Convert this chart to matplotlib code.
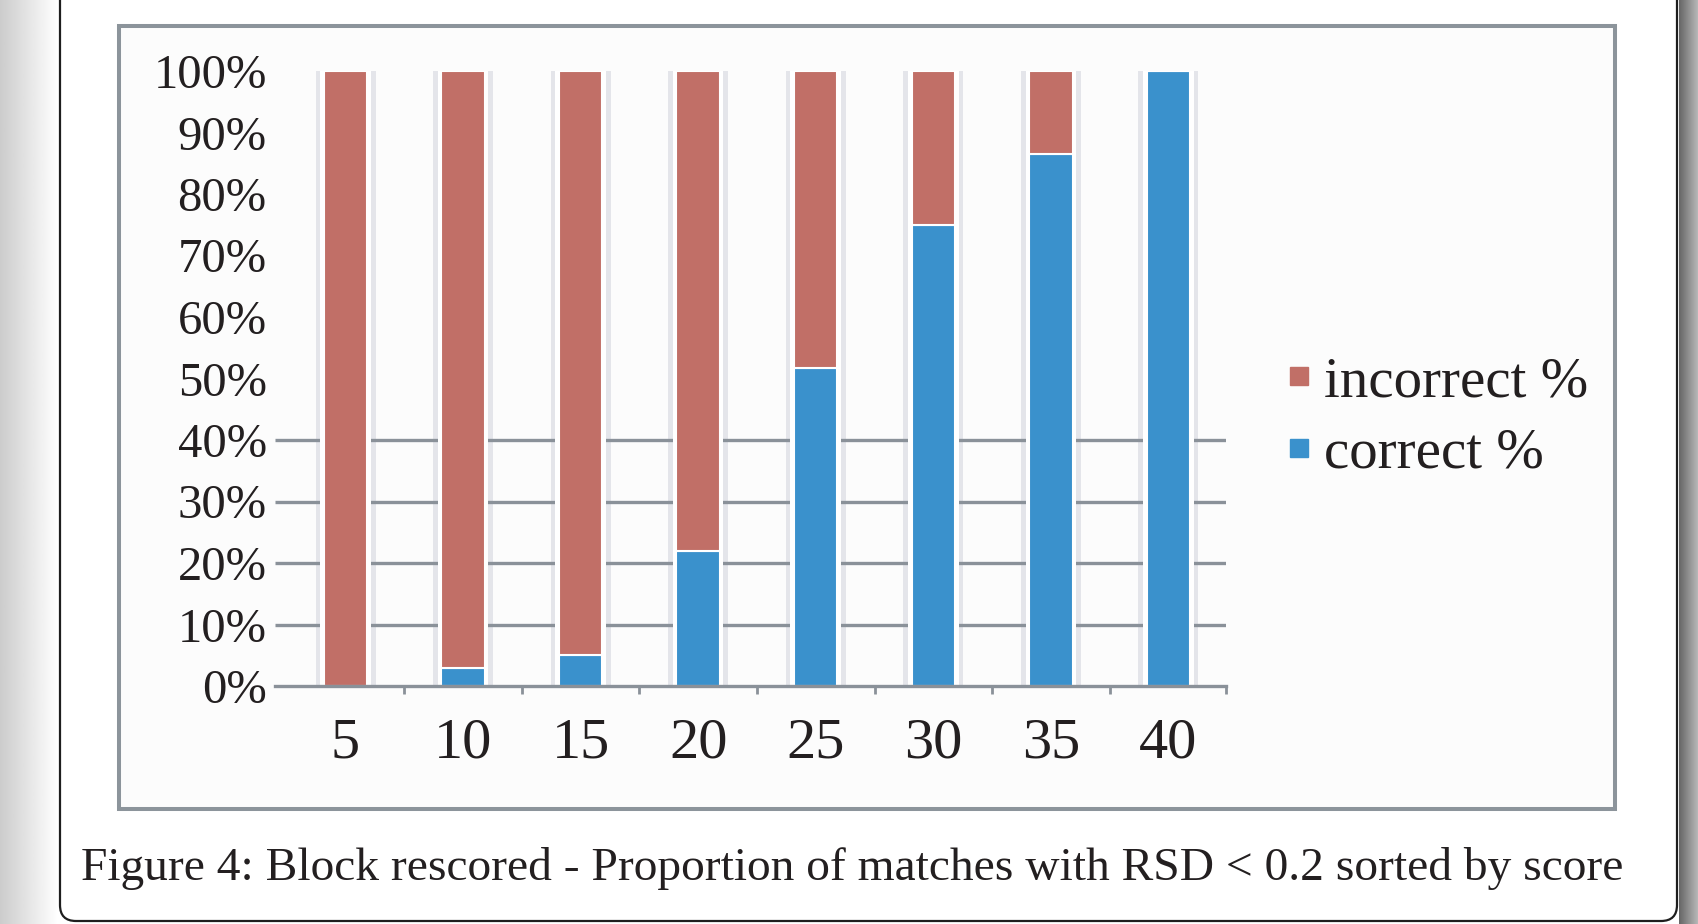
import numpy as np
import matplotlib
matplotlib.use("Agg")
import matplotlib.pyplot as plt
from matplotlib.patches import Rectangle, FancyBboxPatch
from matplotlib.lines import Line2D

# values
scores = ["5", "10", "15", "20", "25", "30", "35", "40"]
correct = [0, 3.0, 5.0, 21.9, 51.7, 75.0, 86.5, 100]
incorrect = [100 - c for c in correct]
y_ticks = [0, 10, 20, 30, 40, 50, 60, 70, 80, 90, 100]
grid_levels = [10, 20, 30, 40]
caption = "Figure 4: Block rescored - Proportion of matches with RSD < 0.2 sorted by score"

RED = "#c16f67"
BLUE = "#3a91cc"
GREY = "#8a9199"
INK = "#231f20"

plt.rcParams["font.family"] = ["Liberation Serif", "DejaVu Serif"]

W, H = 1698, 924
fig = plt.figure(figsize=(W / 100, H / 100), dpi=100, facecolor="white")

# page edges (screenshot look)
def strip(x0, x1, v0, v1):
    sax = fig.add_axes([x0 / W, 0, (x1 - x0) / W, 1], zorder=-5)
    sax.imshow(np.linspace(v0, v1, 64)[None, :], cmap="gray", vmin=0, vmax=1,
               aspect="auto", interpolation="bilinear")
    sax.axis("off")

strip(0, 58, 0.80, 1.0)
strip(1679, W, 0.40, 0.72)
page = FancyBboxPatch((0.60, 0.03), 16.17, 10, boxstyle="round,pad=0,rounding_size=0.16",
                      transform=fig.dpi_scale_trans, facecolor="white",
                      edgecolor="#1e1e1e", lw=1.6, zorder=-4)
fig.patches.append(page)

# chart frame
frame = Rectangle((119 / W, 1 - 809 / H), (1615 - 119) / W, (809 - 26) / H,
                  transform=fig.transFigure, facecolor="#fcfcfc",
                  edgecolor="#8c949b", lw=2.9, zorder=-3)
fig.patches.append(frame)

ax = fig.add_axes([275 / W, 1 - 686 / H, 951 / W, 615 / H])
ax.set_facecolor("none")
x = np.arange(len(scores))

ax.bar(x, 100, width=0.51, color="#e4e5ea", zorder=0.5)
ax.hlines(grid_levels, -0.6, len(scores) - 0.51, color=GREY, lw=2.4, zorder=1)
ax.bar(x, 100, width=0.43, color="white", zorder=2)
ax.bar(x, correct, width=0.37, color=BLUE, edgecolor="white", lw=1.5, zorder=3,
       label="correct %")
ax.bar(x, incorrect, bottom=correct, width=0.37, color=RED, edgecolor="white",
       lw=1.5, zorder=3, label="incorrect %")

ax.set_xlim(-0.6, len(scores) - 0.51)
ax.set_ylim(0, 100)
for s in ["top", "right", "left"]:
    ax.spines[s].set_visible(False)
ax.spines["bottom"].set_color(GREY)
ax.spines["bottom"].set_linewidth(2.4)
ax.spines["bottom"].set_zorder(4)

ax.set_yticks(y_ticks)
ax.set_yticklabels([f"{v}%" for v in y_ticks], fontsize=35, color=INK)
ax.tick_params(axis="y", length=0, pad=6)

ax.set_xticks(x)
ax.set_xticklabels(scores, fontsize=42, color=INK)
ax.set_xticks(list(x[:-1] + 0.5) + [len(scores) - 0.51], minor=True)
ax.tick_params(axis="x", which="major", length=0, pad=23)
ax.tick_params(axis="x", which="minor", length=6, width=2, color=GREY, direction="out")

handles = [Line2D([], [], ls="none", marker="s", markersize=12.5, color=RED, label="incorrect %"),
           Line2D([], [], ls="none", marker="s", markersize=12.5, color=BLUE, label="correct %")]
fig.legend(handles=handles, loc="center left", bbox_to_anchor=(1290 / W, 1 - 418 / H),
           frameon=False, fontsize=41, borderpad=0, borderaxespad=0, handlelength=0.32,
           handletextpad=0.28, labelspacing=0.34, labelcolor=INK)

fig.text(81 / W, 1 - 880 / H, caption, ha="left", va="baseline", fontsize=34.2, color=INK)

fig.savefig("out.png", dpi=100, facecolor="white")
